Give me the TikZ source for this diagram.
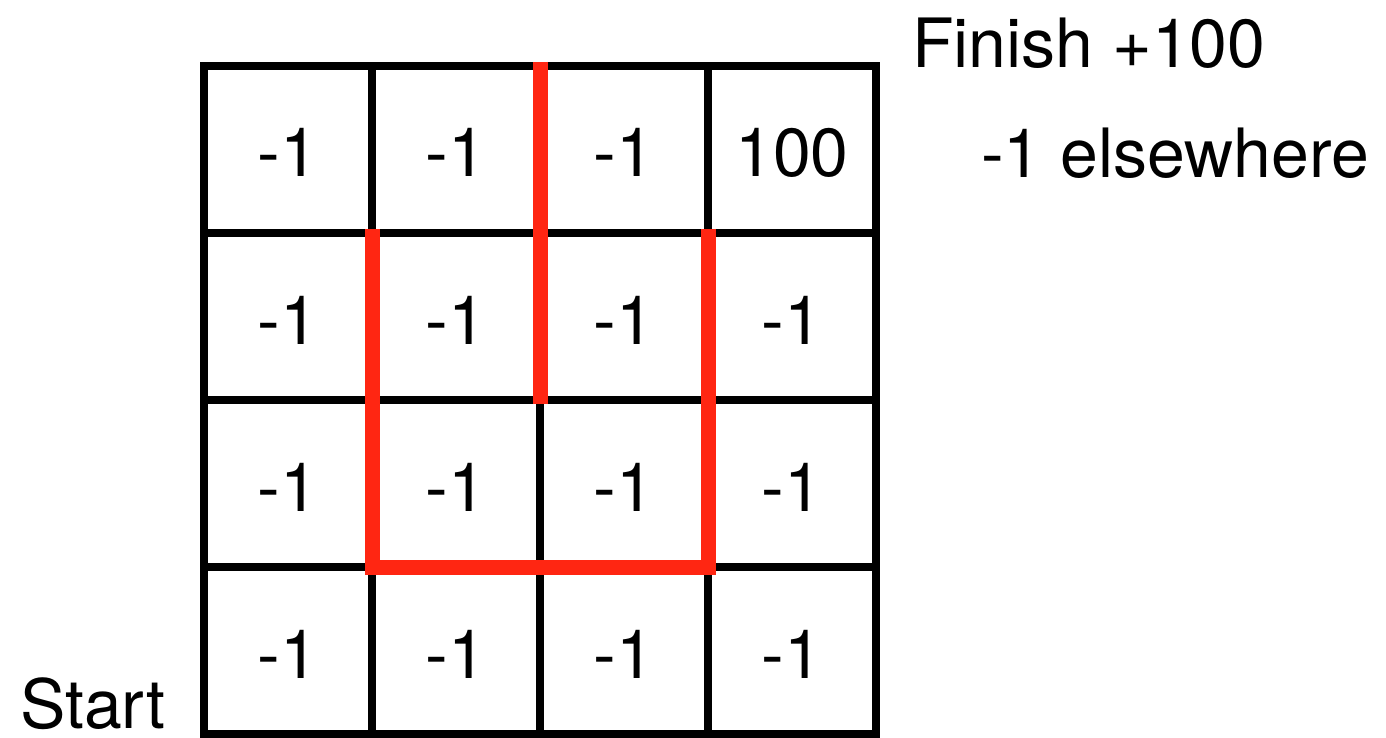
\documentclass[tikz,border=0pt]{standalone}
\usepackage{fontspec}
\setmainfont{TeX Gyre Heros}
\definecolor{wallred}{RGB}{255,38,18}
\begin{document}
\begin{tikzpicture}[x=1pt,y=-1pt,
  grid/.style={line width=8pt, draw=black},
  wall/.style={line width=15pt, draw=wallred},
  val/.style={font=\fontsize{68}{68}\selectfont, anchor=base, inner sep=0pt},
  lbl/.style={font=\fontsize{68}{68}\selectfont, anchor=base west, inner sep=0pt}]
\useasboundingbox (0,0) rectangle (1386,738);
\foreach \i/\x in {0/204,1/372,2/540,3/708,4/876}
  \foreach \j/\y in {0/66,1/233,2/400,3/567,4/734}
    \coordinate (p\i\j) at (\x,\y);
% grid
\draw[grid] (p00) rectangle (p44);
\draw[grid] (p10) -- (p14) (p20) -- (p24) (p30) -- (p34)
            (p01) -- (p41) (p02) -- (p42) (p03) -- (p43);
% walls
\draw[wall] ([yshift=4pt]p20) -- ([yshift=-4pt]p22);
\draw[wall] ([yshift=4pt]p11) -- (p13) -- (p33) -- ([yshift=4pt]p31);
% cell values
\foreach \r/\yb in {1/177,2/344,3/511,4/678}
  \foreach \c/\xc in {1/288,2/456,3/624,4/792}
    \node[val] (c\r\c) at (\xc,\yb) {\ifnum\r\c=14 100\else -1\fi};
% labels
\node[lbl] (finish) at (912,68) {Finish +100};
\node[lbl] (else) at (981,178) {-1 elsewhere};
\node[lbl] (start) at (20,728) {Start};
\end{tikzpicture}
\end{document}
